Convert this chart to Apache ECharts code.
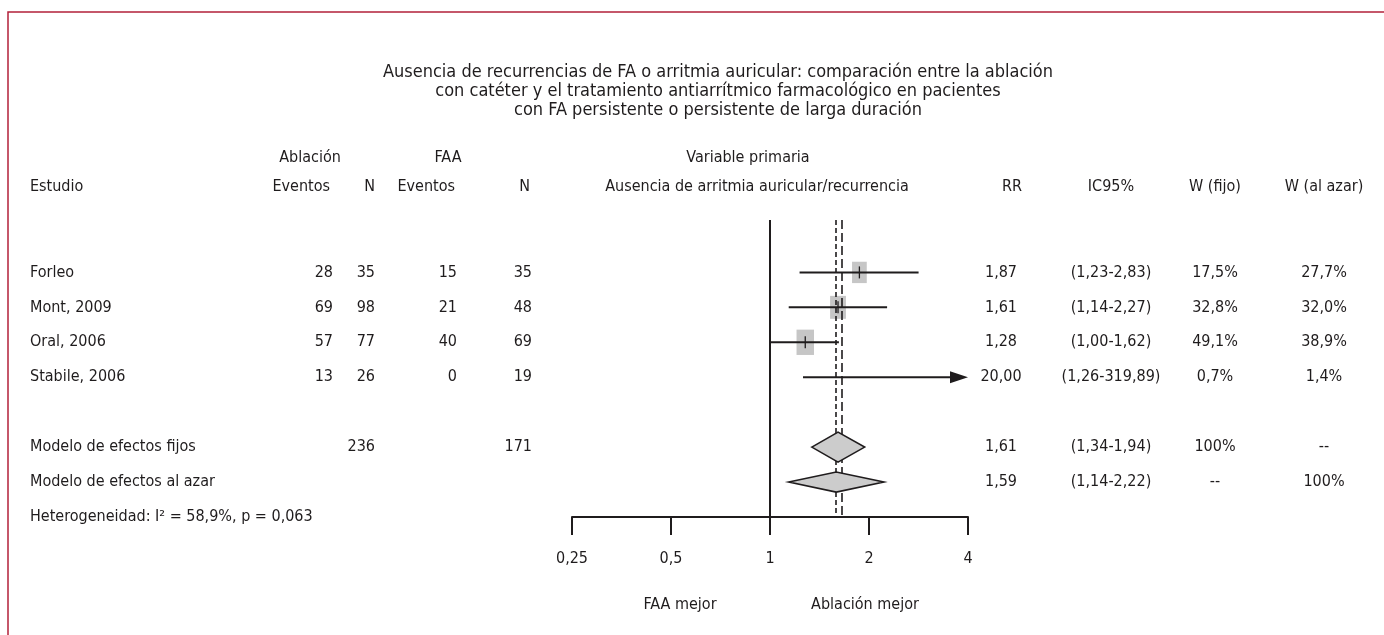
<!DOCTYPE html>
<html>
<head>
<meta charset="utf-8">
<script src="https://cdn.jsdelivr.net/npm/echarts@6/dist/echarts.min.js"></script>
<style>
html, body { margin: 0; padding: 0; background: #fff; }
#chart { width: 1384px; height: 635px; }
</style>
</head>
<body>
<div id="chart"></div>
<script>
// study rows
const studies = ['Forleo', 'Mont, 2009', 'Oral, 2006', 'Stabile, 2006'];
const ablEvents = [28, 69, 57, 13];
const ablN = [35, 98, 77, 26];
const faaEvents = [15, 21, 40, 0];
const faaN = [35, 48, 69, 19];
const rr = [1.87, 1.61, 1.28, 20.00];
const ciLow = [1.23, 1.14, 1.00, 1.26];
const ciHigh = [2.83, 2.27, 1.62, 319.89];
const wFixed = [17.5, 32.8, 49.1, 0.7];
const wRandom = [27.7, 32.0, 38.9, 1.4];

// pooled rows
const pooledNames = ['Modelo de efectos fijos', 'Modelo de efectos al azar'];
const pooledAblN = ['236', ''];
const pooledFaaN = ['171', ''];
const pooledRR = [1.61, 1.59];
const pooledLow = [1.34, 1.14];
const pooledHigh = [1.94, 2.22];
const pooledWFixed = ['100%', '--'];
const pooledWRandom = ['--', '100%'];
const heterogeneity = 'Heterogeneidad: I² = 58,9%, p = 0,063';

// dashed reference lines
const pooledLines = [1.59, 1.65];

const xTicks = [0.25, 0.5, 1, 2, 4];
const titleLines = [
    'Ausencia de recurrencias de FA o arritmia auricular: comparación entre la ablación',
    'con catéter y el tratamiento antiarrítmico farmacológico en pacientes',
    'con FA persistente o persistente de larga duración'
];

const FONT = "'Liberation Sans Narrow', 'DejaVu Sans Condensed', 'Noto Sans', sans-serif";
const INK = '#1f1c1d';
const FS = 16;
const TITLE_FS = 18;

// row slots on the y axis
const studyRows = [0, 1, 2, 3];
const pooledRows = [5, 6];
const hetRow = 7;
const diamondHalf = [15, 10];

const columns = [
    {x: 30, align: 'left'},
    {x: 333, align: 'right'},
    {x: 375, align: 'right'},
    {x: 457, align: 'right'},
    {x: 532, align: 'right'},
    {x: 1001, align: 'center'},
    {x: 1111, align: 'center'},
    {x: 1215, align: 'center'},
    {x: 1324, align: 'center'}
];

const fmt = (v, d) => v.toFixed(d).replace('.', ',');
const ci = (lo, hi) => '(' + fmt(lo, 2) + '-' + fmt(hi, 2) + ')';

const tableRows = []
studies.forEach((s, i) => {
    tableRows.push({
        row: studyRows[i],
        cells: [s, String(ablEvents[i]), String(ablN[i]), String(faaEvents[i]), String(faaN[i]),
            fmt(rr[i], 2), ci(ciLow[i], ciHigh[i]), fmt(wFixed[i], 1) + '%', fmt(wRandom[i], 1) + '%']
    })
})
pooledNames.forEach((s, i) => {
    tableRows.push({
        row: pooledRows[i],
        cells: [s, '', pooledAblN[i], '', pooledFaaN[i],
            fmt(pooledRR[i], 2), ci(pooledLow[i], pooledHigh[i]), pooledWFixed[i], pooledWRandom[i]]
    })
})
tableRows.push({row: hetRow, cells: [heterogeneity]})

const X_MIN = xTicks[0], X_MAX = xTicks[xTicks.length - 1];

function text(t, x, y, align, size) {
    return {
        type: 'text',
        silent: true,
        style: {
            text: t, x: x, y: y, align: align || 'center', verticalAlign: 'middle',
            fontFamily: FONT, fontSize: size || FS, fill: INK
        }
    }
}

const headerGraphics = [
    {
        type: 'rect', silent: true,
        shape: {x: 8, y: 12, width: 1420, height: 700},
        style: {fill: 'none', stroke: '#b3203a', lineWidth: 1.5}
    },
    ...titleLines.map((t, i) => text(t, 718, 72 + i * 19, 'center', TITLE_FS)),
    text('Ablación', 310, 158),
    text('FAA', 448, 158),
    text('Variable primaria', 748, 158),
    text('Estudio', 30, 187, 'left'),
    text('Eventos', 330, 187, 'right'),
    text('N', 375, 187, 'right'),
    text('Eventos', 455, 187, 'right'),
    text('N', 530, 187, 'right'),
    text('Ausencia de arritmia auricular/recurrencia', 757, 187),
    text('RR', 1012, 187),
    text('IC95%', 1111, 187),
    text('W (fijo)', 1215, 187),
    text('W (al azar)', 1324, 187),
    text('FAA mejor', 680, 605),
    text('Ablación mejor', 865, 605)
]

const chart = echarts.init(document.getElementById('chart'));
chart.setOption({
    animation: false,
    backgroundColor: '#fff',
    graphic: headerGraphics,
    grid: {left: 572, width: 396, top: 220, height: 297, outerBoundsMode: 'none'},
    xAxis: {
        type: 'log',
        logBase: 2,
        min: X_MIN,
        max: X_MAX,
        axisLine: {show: true, onZero: false, lineStyle: {color: INK, width: 2}},
        axisTick: {show: true, inside: false, length: 18, lineStyle: {color: INK, width: 2}},
        splitLine: {show: false},
        axisLabel: {
            margin: 34,
            color: INK,
            fontFamily: FONT,
            fontSize: FS,
            formatter: v => String(v).replace('.', ',')
        }
    },
    yAxis: {type: 'value', min: -1.5, max: 7, inverse: true, show: false},
    series: [
        {
            // weight squares (under the reference lines)
            type: 'custom',
            z: 1,
            clip: false,
            data: studies.map((s, i) => [rr[i], studyRows[i], wRandom[i]]),
            renderItem: function (params, api) {
                const est = api.value(0);
                if (est < X_MIN || est > X_MAX) return null;
                const c = api.coord([est, api.value(1)]);
                const w = Math.sqrt(api.value(2)) * 2.8;
                const h = w * 1.45;
                return {
                    type: 'group',
                    children: [
                        {
                            type: 'rect',
                            shape: {x: c[0] - w / 2, y: c[1] - h / 2, width: w, height: h},
                            style: {fill: '#c6c6c6'}
                        },
                        {
                            type: 'line',
                            shape: {x1: c[0], y1: c[1] - 6, x2: c[0], y2: c[1] + 6},
                            style: {stroke: INK, lineWidth: 1.3}
                        }
                    ]
                };
            }
        },
        {
            // reference lines
            type: 'custom',
            z: 2,
            data: [],
            renderItem: () => null,
            markLine: {
                silent: true,
                z: 2,
                symbol: 'none',
                label: {show: false},
                data: [
                    {xAxis: 1, lineStyle: {color: INK, width: 2, type: 'solid'}},
                    {xAxis: pooledLines[0], lineStyle: {color: INK, width: 1.6, type: [5, 3]}},
                    {xAxis: pooledLines[1], lineStyle: {color: INK, width: 1.6, type: [9, 4]}}
                ]
            }
        },
        {
            // study CI lines and arrows
            type: 'custom',
            z: 3,
            clip: false,
            data: studies.map((s, i) => [ciLow[i], ciHigh[i], studyRows[i]]),
            renderItem: function (params, api) {
                const row = api.value(2);
                const lo = Math.max(api.value(0), X_MIN);
                const hiRaw = api.value(1);
                const hi = Math.min(hiRaw, X_MAX);
                const p1 = api.coord([lo, row]);
                const p2 = api.coord([hi, row]);
                const arrow = hiRaw > X_MAX;
                const endX = arrow ? p2[0] - 16 : p2[0];
                const children = [{
                    type: 'line',
                    shape: {x1: p1[0], y1: p1[1], x2: endX, y2: p2[1]},
                    style: {stroke: INK, lineWidth: 2}
                }];
                if (arrow) {
                    children.push({
                        type: 'polygon',
                        shape: {points: [[p2[0] - 18, p2[1] - 6], [p2[0], p2[1]], [p2[0] - 18, p2[1] + 6]]},
                        style: {fill: INK}
                    });
                }
                return {type: 'group', children: children};
            }
        },
        {
            // pooled diamonds
            type: 'custom',
            z: 4,
            clip: false,
            data: pooledRR.map((v, i) => [pooledLow[i], pooledHigh[i], pooledRows[i], v]),
            renderItem: function (params, api) {
                const row = api.value(2);
                const l = api.coord([api.value(0), row]);
                const r = api.coord([api.value(1), row]);
                const c = api.coord([api.value(3), row]);
                const hh = diamondHalf[params.dataIndex];
                return {
                    type: 'polygon',
                    shape: {points: [[l[0], l[1]], [c[0], c[1] - hh], [r[0], r[1]], [c[0], c[1] + hh]]},
                    style: {fill: '#cccccc', stroke: INK, lineWidth: 1.6}
                };
            }
        },
        {
            // table text, rows placed on the same y scale
            type: 'custom',
            z: 5,
            clip: false,
            silent: true,
            data: tableRows.map(r => [1, r.row]),
            renderItem: function (params, api) {
                const r = tableRows[params.dataIndex];
                const y = api.coord([1, api.value(1)])[1];
                const children = [];
                r.cells.forEach((t, c) => {
                    if (t) children.push(text(t, columns[c].x, y, columns[c].align));
                });
                return {type: 'group', children: children};
            }
        }
    ]
});
</script>
</body>
</html>
